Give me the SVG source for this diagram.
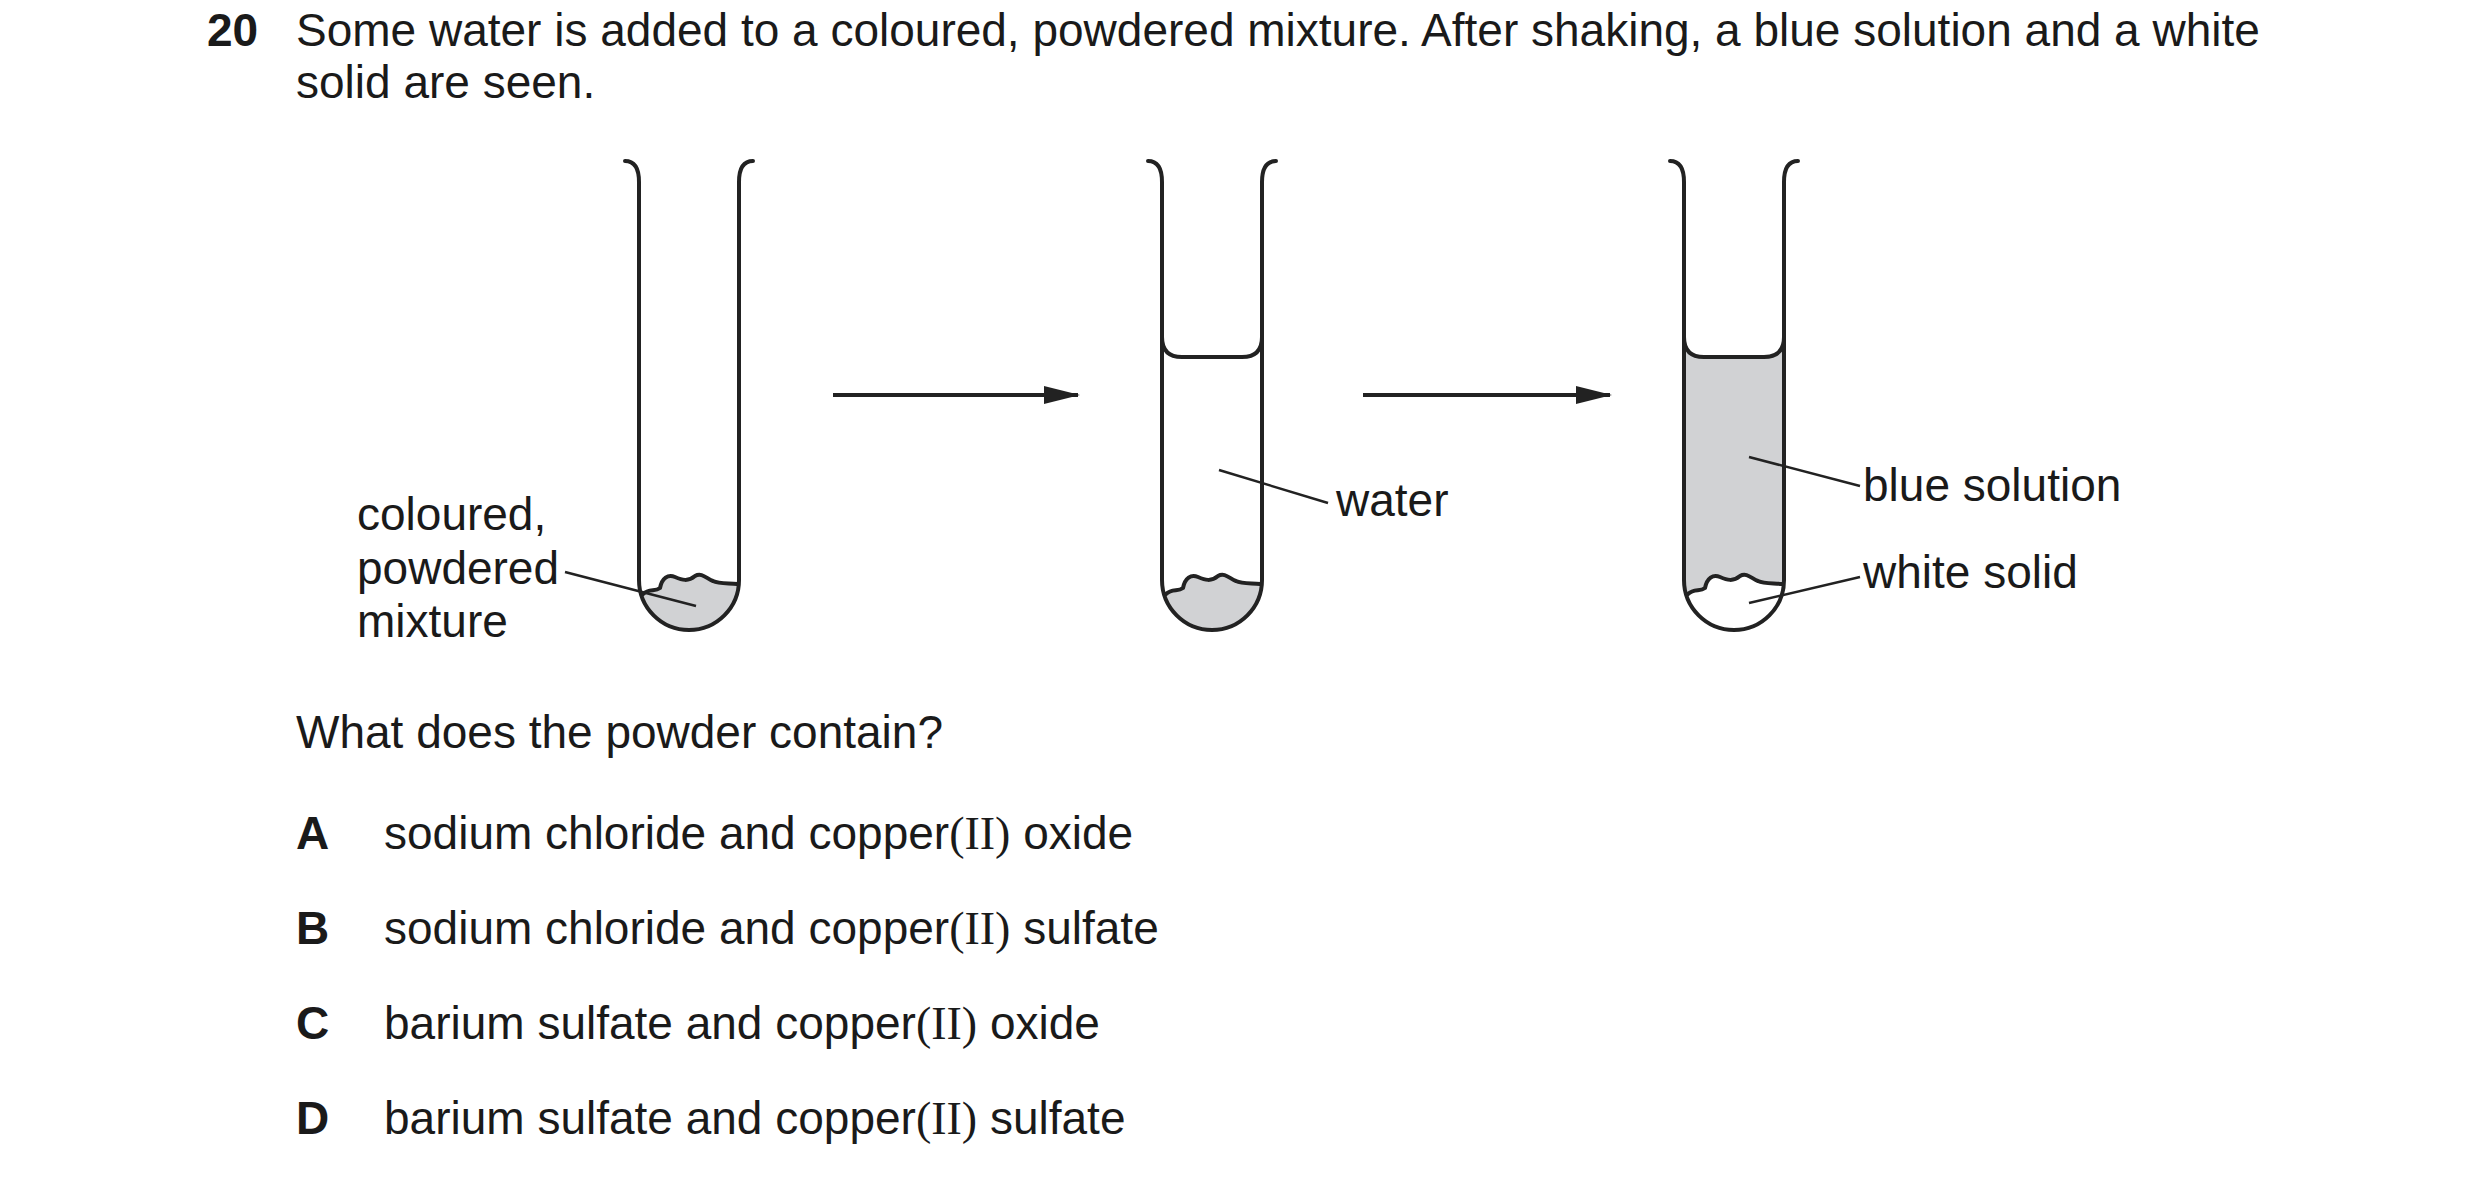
<svg xmlns="http://www.w3.org/2000/svg" width="2480" height="1184" viewBox="0 0 2480 1184">
<style>
text{font-family:"Liberation Sans",Arial,sans-serif;font-size:46px;fill:#1a1a1a}
.b{font-weight:bold}
.s{font-family:"Liberation Serif","Times New Roman",serif}
.ln{fill:none;stroke:#222;stroke-width:4;stroke-linecap:round;stroke-linejoin:round}
.ar{fill:none;stroke:#222;stroke-width:4}
.ld{fill:none;stroke:#222;stroke-width:2.5}
.g{fill:#d1d2d4;stroke:none}
</style>
<defs>
<marker id="ah" viewBox="0 0 36 18" refX="34" refY="9" markerWidth="36" markerHeight="18" markerUnits="userSpaceOnUse" orient="auto"><path d="M0,0 L36,9 L0,18 Z" fill="#222"/></marker>
<path id="tube" d="M-64,161 Q-50,161 -50,182 L-50,580 A50,50 0 0 0 50,580 L50,182 Q50,161 64,161"/>
<path id="wave" d="M-46,594 C-40,588 -34,592 -29,588 C-27,578 -21,574 -14,577 C-7,580 -1,582 6,576 C13,572 18,579 24,581 C30,584 40,583 48,584"/>
</defs>
<text x="207" y="46" class="b">20</text>
<text x="296" y="46">Some water is added to a coloured, powdered mixture. After shaking, a blue solution and a white</text>
<text x="296" y="98">solid are seen.</text>
<g id="tube1" transform="translate(689,0)">
<path class="g" d="M-46,594 C-40,588 -34,592 -29,588 C-27,578 -21,574 -14,577 C-7,580 -1,582 6,576 C13,572 18,579 24,581 C30,584 40,583 48,584 L50,584 A50,50 0 0 1 -46,600 Z"/>
<use href="#wave" class="ln" stroke-width="3"/>
<use href="#tube" class="ln"/>
</g>
<g id="tube2" transform="translate(1212,0)">
<path class="g" d="M-46,594 C-40,588 -34,592 -29,588 C-27,578 -21,574 -14,577 C-7,580 -1,582 6,576 C13,572 18,579 24,581 C30,584 40,583 48,584 L50,584 A50,50 0 0 1 -46,600 Z"/>
<use href="#wave" class="ln" stroke-width="3"/>
<path class="ln" d="M-50,337 Q-50,357 -30,357 L30,357 Q50,357 50,337"/>
<use href="#tube" class="ln"/>
</g>
<g id="tube3" transform="translate(1734,0)">
<path class="g" d="M-50,337 Q-50,357 -30,357 L30,357 Q50,357 50,337 L50,584 L48,584 C40,583 30,584 24,581 C18,579 13,572 6,576 C-1,582 -7,580 -14,577 C-21,574 -27,578 -29,588 C-34,592 -40,588 -46,594 L-50,594 Z"/>
<use href="#wave" class="ln" stroke-width="3"/>
<path class="ln" d="M-50,337 Q-50,357 -30,357 L30,357 Q50,357 50,337"/>
<use href="#tube" class="ln"/>
</g>
<g id="connectors">
<line class="ar" x1="833" y1="395" x2="1078" y2="395" marker-end="url(#ah)"/>
<line class="ar" x1="1363" y1="395" x2="1610" y2="395" marker-end="url(#ah)"/>
<line class="ld" x1="565" y1="572" x2="696" y2="606"/>
<line class="ld" x1="1219" y1="470" x2="1328" y2="503"/>
<line class="ld" x1="1749" y1="457" x2="1860" y2="486"/>
<line class="ld" x1="1749" y1="603" x2="1860" y2="577"/>
</g>
<g id="labels">
<text x="357" y="530">coloured,</text>
<text x="357" y="584">powdered</text>
<text x="357" y="637">mixture</text>
<text x="1336" y="516">water</text>
<text x="1863" y="501">blue solution</text>
<text x="1863" y="588">white solid</text>
</g>
<text x="296" y="748">What does the powder contain?</text>
<text x="296" y="849" class="b">A</text>
<text x="384" y="849">sodium chloride and copper<tspan class="s">(II)</tspan> oxide</text>
<text x="296" y="944" class="b">B</text>
<text x="384" y="944">sodium chloride and copper<tspan class="s">(II)</tspan> sulfate</text>
<text x="296" y="1039" class="b">C</text>
<text x="384" y="1039">barium sulfate and copper<tspan class="s">(II)</tspan> oxide</text>
<text x="296" y="1134" class="b">D</text>
<text x="384" y="1134">barium sulfate and copper<tspan class="s">(II)</tspan> sulfate</text>
</svg>
